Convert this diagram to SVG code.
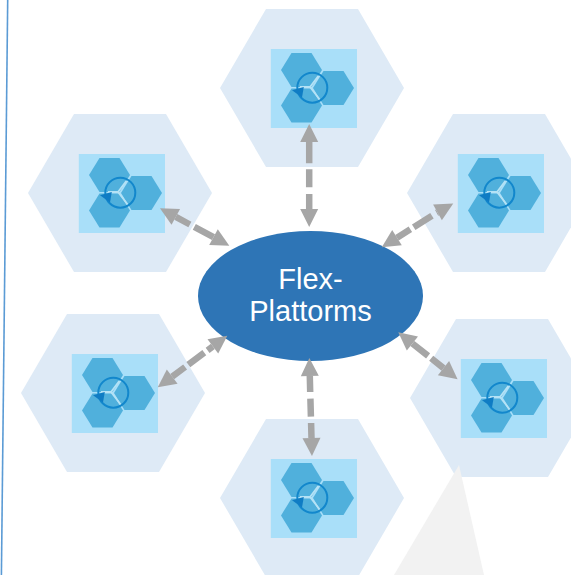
<svg xmlns="http://www.w3.org/2000/svg" width="571" height="575" viewBox="0 0 571 575">
<style>
.hex{fill:#deeaf6}
.bg{fill:#a9dff9}
.cell{fill:#50b0dc}
.ring{fill:none;stroke:#1287cc;stroke-width:2}
.spoke{fill:none;stroke:#b5e2f5;stroke-width:1.8}
.tip{fill:#0f7cc4}
.link{fill:none;stroke:#a6a6a6;stroke-width:6.5;marker-start:url(#head);marker-end:url(#head)}
.hub{fill:#2e75b6}
.label{font-family:"Liberation Sans",Arial,sans-serif;font-size:29px;fill:#fff;text-anchor:middle}
</style>
<defs>
<marker id="head" markerUnits="userSpaceOnUse" markerWidth="20" markerHeight="20" refX="0" refY="9" orient="auto-start-reverse" overflow="visible"><path d="M0 0L18 9L0 18Z" fill="#a6a6a6"/></marker>
<polygon id="hexagon" class="hex" points="-92,0 -46,-79 46,-79 92,0 46,79 -46,79"/>
<polygon id="cellshape" class="cell" points="-20.5,0 -10,-17 10,-17 20.5,0 10,17 -10,17"/>
<g id="icon">
<rect class="bg" x="-41.2" y="-39" width="86.2" height="79"/>
<use href="#cellshape" x="-10.5" y="-18"/>
<use href="#cellshape" x="21.5" y="0"/>
<use href="#cellshape" x="-10.5" y="17.5"/>
<circle class="ring" cx="0.3" cy="-0.3" r="15"/>
<path class="spoke" d="M-2 -1H-12M-2 -1L6.3 -12M-2 -1L7.5 11.3"/>
<polygon class="tip" points="-20,2.2 -8.2,-1 -10,9.5"/>
</g>
</defs>
<path d="M7.7 0L1.4 575" fill="none" stroke="#5b9bd5" stroke-width="1.6"/>
<g id="node-top" transform="translate(312 88)"><use href="#hexagon"/><use href="#icon"/></g>
<g id="node-upper-left" transform="translate(120 193)"><use href="#hexagon"/><use href="#icon"/></g>
<g id="node-upper-right" transform="translate(499 193)"><use href="#hexagon"/><use href="#icon"/></g>
<g id="node-lower-left" transform="translate(113 393)"><use href="#hexagon"/><use href="#icon"/></g>
<g id="node-lower-right" transform="translate(502 398)"><use href="#hexagon"/><use href="#icon"/></g>
<g id="node-bottom" transform="translate(312 498)"><use href="#hexagon"/><use href="#icon"/></g>
<polygon id="pale-triangle" points="459,465 394,575 484,575" fill="#f2f2f2"/>
<g id="node-hub">
<ellipse class="hub" cx="310.5" cy="296" rx="112.5" ry="65"/>
<text class="label" x="310.5" y="288.5">Flex-</text>
<text class="label" x="310.5" y="321">Plattorms</text>
</g>
<g id="connectors">
<path class="link" d="M309.2 142V163.3M309.2 169.3V187.3M309.2 194V209"/>
<path class="link" d="M309.8 376L310.2 392M310.4 398.7L310.9 416.7M311.1 423L311.5 438"/>
<path class="link" d="M175.8 216.9L189.9 224.5M194.3 226.8L213.5 237.2"/>
<path class="link" d="M437.5 212.3L436.6 212.8M431.95 215.7L413.7 227.2M410.35 229.3L397 237.7"/>
<path class="link" d="M212.85 346.4L207.6 350.3M204.3 352.7L188.35 364.6M185.1 367L172.2 376.6"/>
<path class="link" d="M412.4 343.5L428.1 355.9M431.2 358.3L443.5 368.1"/>
</g>
</svg>
